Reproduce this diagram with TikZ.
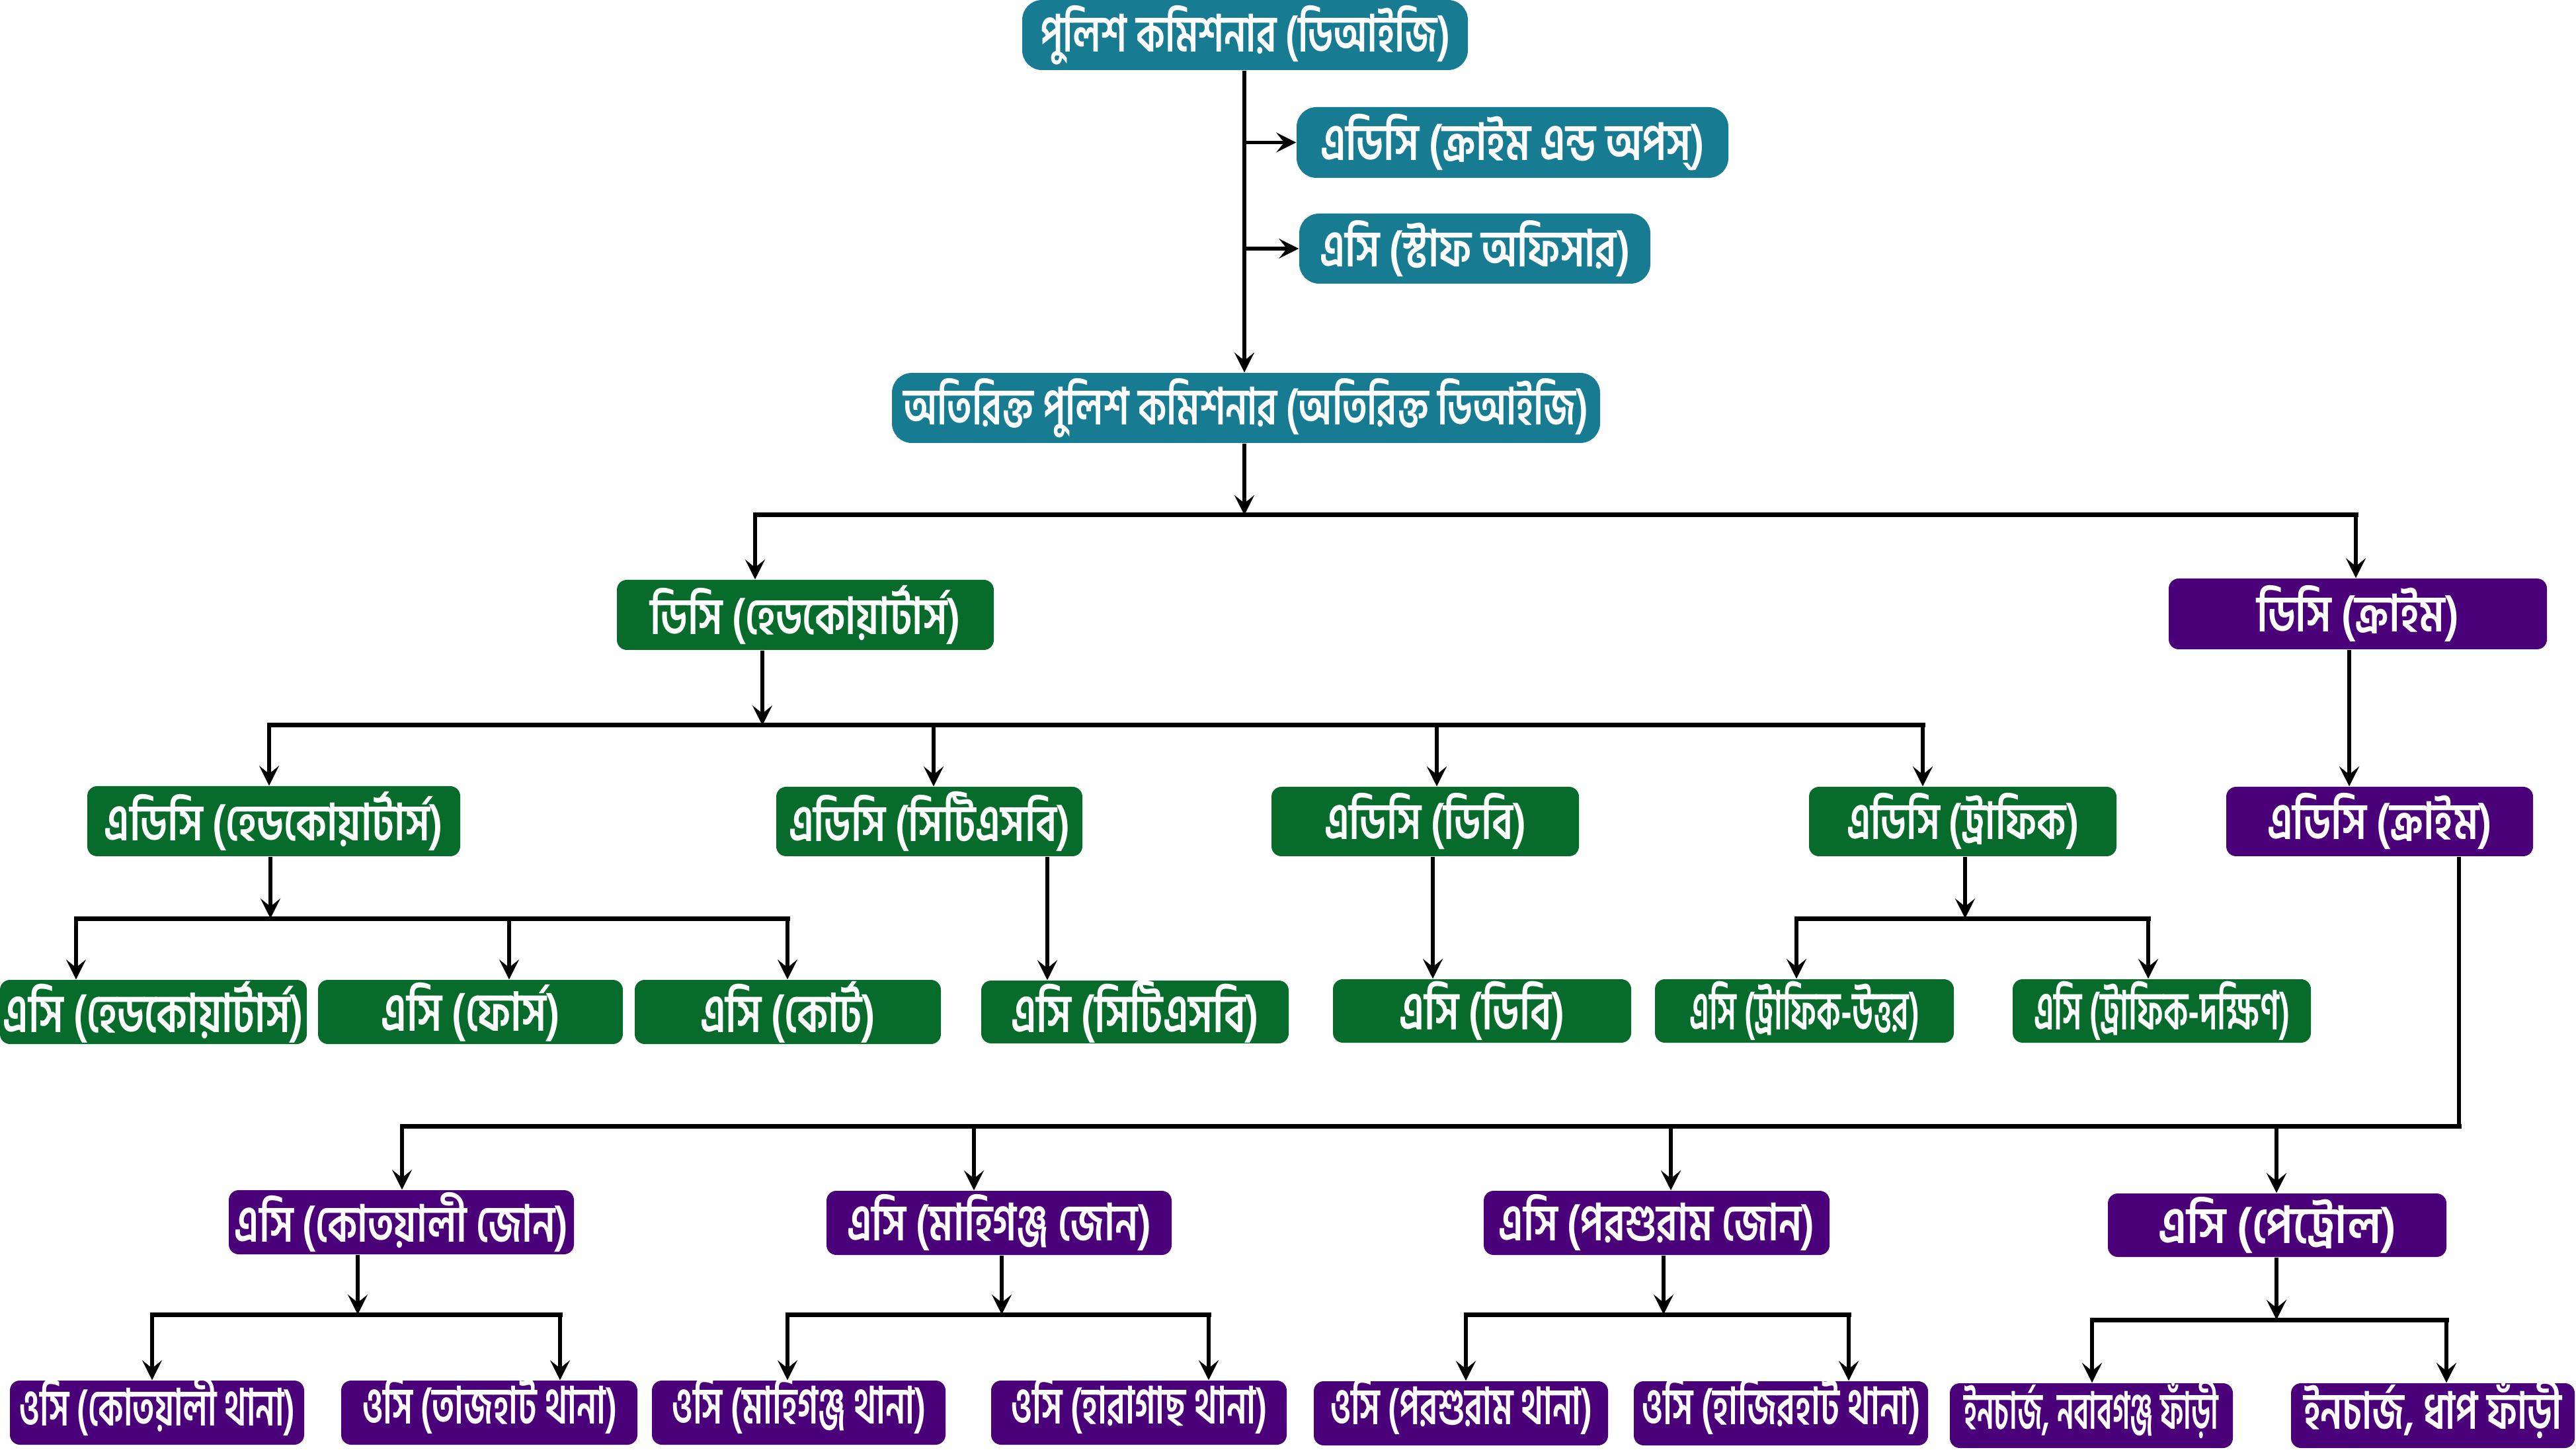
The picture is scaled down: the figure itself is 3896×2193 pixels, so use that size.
\documentclass[tikz,border=0pt]{standalone}
\usepackage{fontspec}
\usepackage{graphicx}
\newfontfamily\bn{Hind Siliguri}[Script=Bengali]
\usetikzlibrary{arrows.meta}
\definecolor{cteal}{RGB}{23,123,146}
\definecolor{cgreen}{RGB}{6,107,43}
\definecolor{cpurple}{RGB}{74,0,120}
\newlength\pxu \setlength\pxu{0.1mm}
\tikzset{
  box/.style={rectangle, inner sep=0pt, text=white},
  tbox/.style={box, fill=cteal, rounded corners=3mm, font=\bn\bfseries\fontsize{22}{26}\selectfont},
  gbox/.style={box, fill=cgreen, rounded corners=1.5mm, font=\bn\bfseries\fontsize{22}{26}\selectfont},
  gboxs/.style={gbox, font=\bn\bfseries\fontsize{23}{27}\selectfont},
  pbox/.style={box, fill=cpurple, rounded corners=1.5mm, font=\bn\bfseries\fontsize{22}{26}\selectfont},
  ln/.style={line width=0.55mm, black},
  arr/.style={ln, -{Stealth[length=3mm,width=3mm,inset=1.2mm]}},
  bar/.style={line width=0.7mm, black, line cap=rect},
}
\newcommand\NB[8]{\node[#2, minimum width={(#5-#3)*0.1mm}, minimum height={(#6-#4)*0.1mm}] (#1) at ({(#3+#5)/2},{(#4+#6)/2}) {\resizebox{#7\pxu}{\height}{#8}};}
% bottom row: glyphs raised slightly, box size kept
\newcommand\NBB[8]{\node[#2, minimum width={(#5-#3)*0.1mm}, minimum height={(#6-#4)*0.1mm}] (#1) at ({(#3+#5)/2},{(#4+#6)/2}) {\raisebox{1mm}[\height][\depth]{\resizebox{#7\pxu}{\height}{#8}}};}
\begin{document}
\begin{tikzpicture}[x=0.1mm,y=-0.1mm]
\useasboundingbox (0,0) rectangle (3896,2193);
% teal
\NB{top}{tbox}{1546}{0}{2220}{106}{620}{পুলিশ কমিশনার (ডিআইজি)}
\NB{adcops}{tbox}{1961}{162}{2614}{269}{581}{এডিসি (ক্রাইম এন্ড অপস্)}
\NB{acstaff}{tbox}{1965}{323}{2496}{429}{469}{এসি (স্টাফ অফিসার)}
\NB{addl}{tbox}{1349}{564}{2420}{670}{1036}{অতিরিক্ত পুলিশ কমিশনার (অতিরিক্ত ডিআইজি)}
% green
\NB{dchq}{gbox}{933}{877}{1503}{983}{469}{ডিসি (হেডকোয়ার্টার্স)}
\NB{adchq}{gbox}{132}{1189}{696}{1295}{512}{এডিসি (হেডকোয়ার্টার্স)}
\NB{adcctsb}{gbox}{1174}{1190}{1637}{1295}{425}{এডিসি (সিটিএসবি)}
\NB{adcdb}{gbox}{1923}{1190}{2388}{1295}{305}{এডিসি (ডিবি)}
\NB{adctr}{gbox}{2736}{1190}{3201}{1295}{351}{এডিসি (ট্রাফিক)}
\NB{achq}{gboxs}{0}{1482}{464}{1579}{454}{এসি (হেডকোয়ার্টার্স)}
\NB{acforce}{gboxs}{481}{1482}{942}{1579}{270}{এসি (ফোর্স)}
\NB{accourt}{gboxs}{960}{1482}{1423}{1579}{265}{এসি (কোর্ট)}
\NB{acctsb}{gboxs}{1484}{1483}{1949}{1578}{375}{এসি (সিটিএসবি)}
\NB{acdb}{gboxs}{2016}{1481}{2467}{1577}{250}{এসি (ডিবি)}
\NB{actrn}{gboxs}{2503}{1481}{2955}{1577}{348}{এসি (ট্রাফিক-উত্তর)}
\NB{actrs}{gboxs}{3044}{1481}{3495}{1577}{387}{এসি (ট্রাফিক-দক্ষিণ)}
% purple
\NB{dccr}{pbox}{3280}{875}{3852}{982}{305}{ডিসি (ক্রাইম)}
\NB{adccr}{pbox}{3367}{1190}{3831}{1295}{340}{এডিসি (ক্রাইম)}
\NB{ackz}{pbox}{346}{1800}{868}{1897}{504}{এসি (কোতয়ালী জোন)}
\NB{acmz}{pbox}{1250}{1801}{1772}{1898}{460}{এসি (মাহিগঞ্জ জোন)}
\NB{acpz}{pbox}{2244}{1801}{2767}{1898}{478}{এসি (পরশুরাম জোন)}
\NB{acpt}{pbox}{3188}{1805}{3700}{1901}{360}{এসি (পেট্রোল)}
\NBB{ock}{pbox}{15}{2088}{460}{2185}{417}{ওসি (কোতয়ালী থানা)}
\NBB{oct}{pbox}{516}{2088}{964}{2185}{386}{ওসি (তাজহাট থানা)}
\NBB{ocm}{pbox}{986}{2088}{1430}{2185}{385}{ওসি (মাহিগঞ্জ থানা)}
\NBB{och}{pbox}{1499}{2088}{1946}{2185}{388}{ওসি (হারাগাছ থানা)}
\NBB{ocp}{pbox}{1987}{2089}{2432}{2186}{397}{ওসি (পরশুরাম থানা)}
\NBB{ochj}{pbox}{2471}{2089}{2916}{2186}{422}{ওসি (হাজিরহাট থানা)}
\NBB{inn}{pbox}{2949}{2092}{3377}{2190}{385}{ইনচার্জ, নবাবগঞ্জ ফাঁড়ী}
\NBB{ind}{pbox}{3465}{2092}{3894}{2190}{391}{ইনচার্জ, ধাপ ফাঁড়ী}
% junctions
\coordinate (j1) at (1882,779);
\coordinate (b1l) at (1142,779);
\coordinate (b1r) at (3563,779);
\coordinate (j2) at (1153,1097);
\coordinate (b2l) at (407,1097);
\coordinate (d22) at (1412,1097);
\coordinate (d23) at (2173,1097);
\coordinate (b2r) at (2908,1097);
\coordinate (c1) at (3553,1000);
\coordinate (j3) at (409,1389);
\coordinate (b3l) at (115,1389);
\coordinate (d32) at (770,1389);
\coordinate (b3r) at (1191,1389);
\coordinate (c2) at (1584,1400);
\coordinate (c3) at (2167,1400);
\coordinate (j4) at (2972,1389);
\coordinate (b4l) at (2717,1389);
\coordinate (b4r) at (3249,1389);
\coordinate (k5) at (3719,1703);
\coordinate (b5l) at (608,1703);
\coordinate (d52) at (1473,1703);
\coordinate (d53) at (2527,1703);
\coordinate (d54) at (3443,1703);
\coordinate (j6) at (541,1988);
\coordinate (b6l) at (230,1988);
\coordinate (b6r) at (847,1988);
\coordinate (j7) at (1515,1988);
\coordinate (b7l) at (1191,1988);
\coordinate (b7r) at (1828,1988);
\coordinate (j8) at (2516,1988);
\coordinate (b8l) at (2217,1988);
\coordinate (b8r) at (2796,1988);
\coordinate (j9) at (3443,1996);
\coordinate (b9l) at (3164,1996);
\coordinate (b9r) at (3700,1996);
% top connectors
\draw[arr] (top.south -| j1) -- (addl.north -| j1);
\draw[arr] (adcops.west -| j1) -- (adcops.west);
\draw[arr] (acstaff.west -| j1) -- (acstaff.west);
\draw[arr] (addl.south -| j1) -- (j1);
\draw[bar] (b1l) -- (b1r);
\draw[arr] (b1l) -- (b1l |- dchq.north);
\draw[arr] (b1r) -- (b1r |- dccr.north);
% DC HQ
\draw[arr] (dchq.south -| j2) -- (j2);
\draw[bar] (b2l) -- (b2r);
\draw[arr] (b2l) -- (b2l |- adchq.north);
\draw[arr] (d22) -- (d22 |- adcctsb.north);
\draw[arr] (d23) -- (d23 |- adcdb.north);
\draw[arr] (b2r) -- (b2r |- adctr.north);
% DC crime
\draw[arr] (dccr.south -| c1) -- (adccr.north -| c1);
% ADC HQ
\draw[arr] (adchq.south -| j3) -- (j3);
\draw[bar] (b3l) -- (b3r);
\draw[arr] (b3l) -- (b3l |- achq.north);
\draw[arr] (d32) -- (d32 |- acforce.north);
\draw[arr] (b3r) -- (b3r |- accourt.north);
% CTSB, DB
\draw[arr] (adcctsb.south -| c2) -- (acctsb.north -| c2);
\draw[arr] (adcdb.south -| c3) -- (acdb.north -| c3);
% traffic
\draw[arr] (adctr.south -| j4) -- (j4);
\draw[bar] (b4l) -- (b4r);
\draw[arr] (b4l) -- (b4l |- actrn.north);
\draw[arr] (b4r) -- (b4r |- actrs.north);
% ADC crime
\draw[ln] (adccr.south -| k5) -- (k5);
\draw[bar] (k5) -- (b5l);
\draw[arr] (b5l) -- (b5l |- ackz.north);
\draw[arr] (d52) -- (d52 |- acmz.north);
\draw[arr] (d53) -- (d53 |- acpz.north);
\draw[arr] (d54) -- (d54 |- acpt.north);
% zones
\draw[arr] (ackz.south -| j6) -- (j6);
\draw[bar] (b6l) -- (b6r);
\draw[arr] (b6l) -- (b6l |- ock.north);
\draw[arr] (b6r) -- (b6r |- oct.north);
\draw[arr] (acmz.south -| j7) -- (j7);
\draw[bar] (b7l) -- (b7r);
\draw[arr] (b7l) -- (b7l |- ocm.north);
\draw[arr] (b7r) -- (b7r |- och.north);
\draw[arr] (acpz.south -| j8) -- (j8);
\draw[bar] (b8l) -- (b8r);
\draw[arr] (b8l) -- (b8l |- ocp.north);
\draw[arr] (b8r) -- (b8r |- ochj.north);
\draw[arr] (acpt.south -| j9) -- (j9);
\draw[bar] (b9l) -- (b9r);
\draw[arr] (b9l) -- (b9l |- inn.north);
\draw[arr] (b9r) -- (b9r |- ind.north);
\end{tikzpicture}
\end{document}
